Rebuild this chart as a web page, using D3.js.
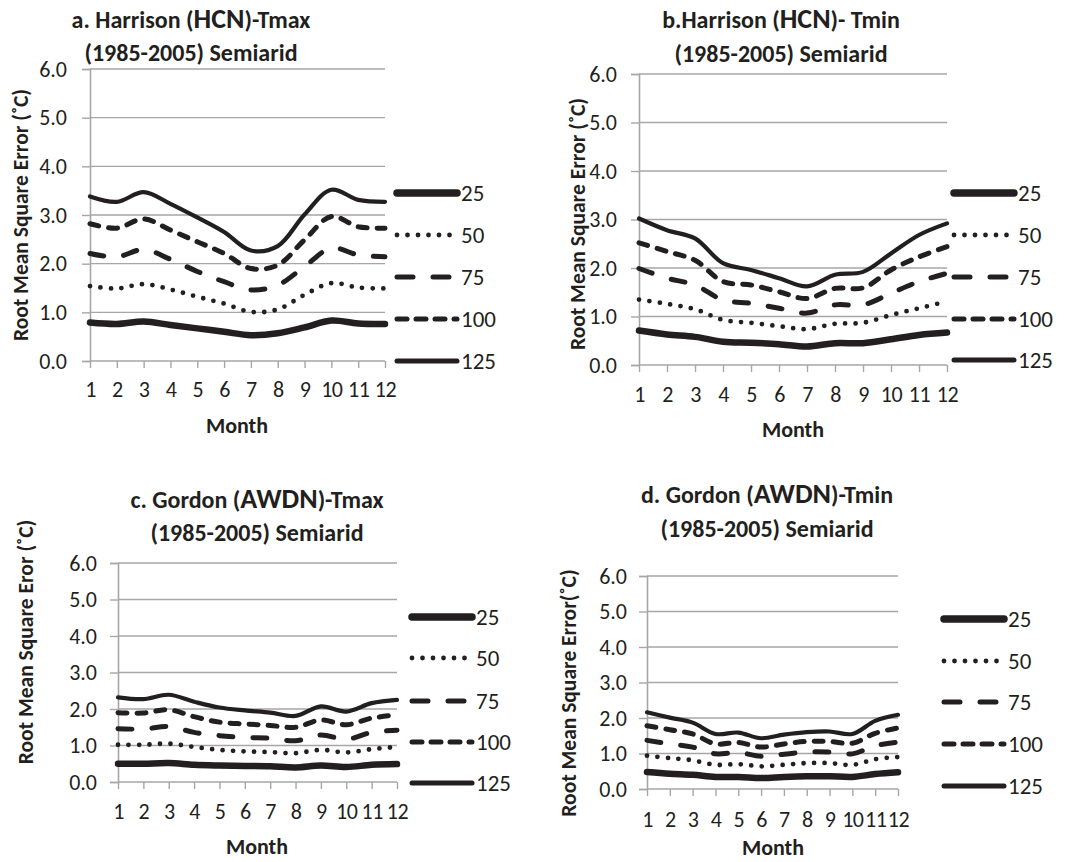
<!DOCTYPE html>
<html><head><meta charset="utf-8">
<script src="https://cdn.jsdelivr.net/npm/d3@7"></script>
<style>body{margin:0;background:#fff}svg{display:block}</style>
</head><body>
<svg id="c" width="1066" height="862"></svg>
<script>
// ---- data ----
const months = [1,2,3,4,5,6,7,8,9,10,11,12];
const seriesNames = ["25","50","75","100","125"];
const yTicks = [0,1,2,3,4,5,6];

// a. Harrison Tmax
const a25  = [0.79,0.76,0.81,0.74,0.67,0.60,0.53,0.57,0.69,0.83,0.77,0.76];
const a50  = [1.54,1.49,1.58,1.47,1.32,1.18,1.01,1.06,1.36,1.60,1.51,1.49];
const a75  = [2.21,2.14,2.29,2.09,1.84,1.63,1.46,1.56,1.94,2.32,2.18,2.14];
const a100 = [2.82,2.73,2.92,2.69,2.45,2.21,1.90,1.97,2.49,2.97,2.76,2.73];
const a125 = [3.38,3.27,3.47,3.23,2.95,2.65,2.27,2.36,3.01,3.52,3.31,3.27];
// b. Harrison Tmin
const b25  = [0.71,0.63,0.58,0.48,0.46,0.43,0.38,0.45,0.45,0.53,0.62,0.67];
const b50  = [1.35,1.26,1.15,0.93,0.87,0.80,0.74,0.85,0.87,1.03,1.17,1.31];
const b75  = [1.99,1.79,1.65,1.34,1.27,1.17,1.07,1.24,1.24,1.48,1.72,1.89];
const b100 = [2.52,2.34,2.16,1.72,1.65,1.51,1.37,1.58,1.59,1.96,2.23,2.44];
const b125 = [3.02,2.78,2.61,2.10,1.96,1.79,1.62,1.86,1.92,2.30,2.68,2.92];
// c. Gordon Tmax
const c25  = [0.50,0.50,0.52,0.47,0.45,0.44,0.43,0.40,0.45,0.41,0.47,0.49];
const c50  = [1.02,1.02,1.05,0.96,0.88,0.84,0.82,0.79,0.88,0.81,0.90,0.96];
const c75  = [1.46,1.45,1.52,1.36,1.27,1.22,1.20,1.13,1.29,1.17,1.36,1.42];
const c100 = [1.90,1.89,1.98,1.79,1.64,1.59,1.55,1.50,1.70,1.57,1.75,1.84];
const c125 = [2.32,2.27,2.39,2.20,2.04,1.96,1.90,1.81,2.07,1.93,2.16,2.25];
// d. Gordon Tmin
const d25  = [0.48,0.43,0.40,0.34,0.34,0.31,0.34,0.36,0.36,0.34,0.42,0.47];
const d50  = [0.94,0.87,0.81,0.68,0.70,0.64,0.68,0.73,0.73,0.68,0.84,0.90];
const d75  = [1.37,1.27,1.18,0.99,1.03,0.92,0.98,1.04,1.04,0.99,1.22,1.32];
const d100 = [1.78,1.67,1.55,1.27,1.31,1.18,1.27,1.34,1.34,1.29,1.57,1.72];
const d125 = [2.16,2.01,1.87,1.55,1.59,1.43,1.53,1.60,1.62,1.55,1.92,2.09];

// ---- styles per series ----
const styles = {
  "25":  {w:6.5, dash:null, cap:"round"},
  "50":  {w:4.8, dash:"0 10.5", cap:"round"},
  "75":  {w:5,   dash:"14 20", cap:"round"},
  "100": {w:5,   dash:"9 10", cap:"round"},
  "125": {w:4.2, dash:null, cap:"round"}
};
const ink = "#231f20", grid = "#a6a6a6";
const FONT = "Carlito, Calibri, Lato, 'Open Sans', sans-serif";

const panels = [
  {t1:["a. Harrison (","HCN",")-Tmax"], t2:"(1985-2005) Semiarid", ytitle:"Root Mean Square Error (˚C)",
   data:[a25,a50,a75,a100,a125],
   x0:90,x1:385,yTop:69,yBot:361, lx:395, ly:[193,235,277,319,361],
   tx:191, tb:[28,61], ytx:20, yty:215, xlb:397, mx:237, mb:433, ylr:67},
  {t1:["b.Harrison (","HCN",")- Tmin"], t2:"(1985-2005) Semiarid", ytitle:"Root Mean Square Error (˚C)",
   data:[b25,b50,b75,b100,b125],
   x0:639,x1:947,yTop:74,yBot:365, lx:952, ly:[193,235,277,319,360],
   tx:781, tb:[28,62], ytx:577, yty:224, xlb:402, mx:793, mb:437, ylr:617},
  {t1:["c. Gordon (","AWDN",")-Tmax"], t2:"(1985-2005) Semiarid", ytitle:"Root Mean Square Eror (˚C)",
   data:[c25,c50,c75,c100,c125],
   x0:118,x1:397,yTop:563,yBot:782, lx:410, ly:[617,658,701,742,783],
   tx:257, tb:[508,541], ytx:25, yty:642, xlb:819, mx:257, mb:854, ylr:97},
  {t1:["d. Gordon (","AWDN",")-Tmin"], t2:"(1985-2005) Semiarid", ytitle:"Root Mean Square Error(˚C)",
   data:[d25,d50,d75,d100,d125],
   x0:647,x1:898,yTop:576,yBot:789, lx:942, ly:[619,661,702,744,786],
   tx:767, tb:[503,537], ytx:568, yty:693, xlb:827, mx:773, mb:855, ylr:627}
];

const svg = d3.select("#c");

panels.forEach(p => {
  const g = svg.append("g");
  const x = d3.scalePoint().domain(months).range([p.x0, p.x1]).padding(0);
  const y = d3.scaleLinear().domain([0,6]).range([p.yBot, p.yTop]);

  // gridlines
  g.selectAll("line.grid").data(yTicks.filter(d=>d>0)).join("line")
    .attr("x1", p.x0).attr("x2", p.x1)
    .attr("y1", d=>y(d)).attr("y2", d=>y(d))
    .attr("stroke", grid).attr("stroke-width", 1.4);

  // y axis
  const ya = g.append("g").attr("transform",`translate(${p.x0},0)`)
    .call(d3.axisLeft(y).tickValues(yTicks).tickFormat(d3.format(".1f")).tickSize(8).tickPadding(p.x0-p.ylr-8));
  ya.select(".domain").attr("stroke", grid).attr("stroke-width",1.6);
  ya.selectAll(".tick line").attr("stroke", grid).attr("stroke-width",1.4);
  ya.selectAll(".tick text").attr("fill", ink).attr("font-family", FONT).attr("font-size", 22);

  // x axis
  const xa = g.append("g").attr("transform",`translate(0,${p.yBot})`)
    .call(d3.axisBottom(x).tickSize(7).tickSizeOuter(0).tickPadding(0));
  xa.select(".domain").attr("stroke", grid).attr("stroke-width",1.6).attr("d", `M${p.x0},0H${p.x1}`);
  xa.selectAll(".tick line").attr("stroke", grid).attr("stroke-width",1.4);
  xa.selectAll(".tick text").attr("fill", ink).attr("font-family", FONT).attr("font-size", 22)
    .attr("dy", null).attr("y", p.xlb - p.yBot).attr("letter-spacing", -0.5);

  // lines
  const line = d3.line().x((d,i)=>x(months[i])).y(d=>y(d)).curve(d3.curveCatmullRom.alpha(0.5));
  seriesNames.forEach((s,k) => {
    const st = styles[s];
    g.append("path").attr("d", line(p.data[k]))
      .attr("fill","none").attr("stroke", ink)
      .attr("stroke-width", st.w).attr("stroke-linecap", st.cap).attr("stroke-linejoin","round")
      .attr("stroke-dasharray", st.dash);
  });

  // legend
  seriesNames.forEach((s,k) => {
    const st = styles[s];
    const ly = p.ly[k];
    const lw = s==="25" ? 7.5 : (s==="125" ? 5 : st.w);
    let dash = st.dash;
    if (s==="75") dash = "16 20";
    if (s==="100") dash = "10 9";
    g.append("line").attr("x1", p.lx+2).attr("x2", p.lx+62).attr("y1", ly).attr("y2", ly)
      .attr("stroke", ink).attr("stroke-width", lw).attr("stroke-linecap", st.cap)
      .attr("stroke-dasharray", dash);
    g.append("text").attr("x", p.lx+66).attr("y", ly).attr("dy","0.35em")
      .attr("fill", ink).attr("font-family", FONT).attr("font-size", 23).text(s);
  });

  // titles
  const t1 = g.append("text").attr("x", p.tx).attr("y", p.tb[0]).attr("text-anchor","middle")
    .attr("fill", ink).attr("font-family", FONT).attr("font-weight","bold").attr("font-size", 24);
  t1.append("tspan").text(p.t1[0]);
  t1.append("tspan").attr("font-size", 28).text(p.t1[1]);
  t1.append("tspan").text(p.t1[2]);
  g.append("text").attr("x", p.tx).attr("y", p.tb[1]).attr("text-anchor","middle")
    .attr("fill", ink).attr("font-family", FONT).attr("font-weight","bold").attr("font-size", 24)
    .text(p.t2);

  // y title
  g.append("text").attr("transform", `translate(${p.ytx},${p.yty}) rotate(-90)`)
    .attr("text-anchor","middle").attr("dy","0.35em")
    .attr("fill", ink).attr("font-family", FONT).attr("font-weight","bold").attr("font-size", 21.5)
    .text(p.ytitle);

  // x title
  g.append("text").attr("x", p.mx).attr("y", p.mb).attr("text-anchor","middle")
    .attr("fill", ink).attr("font-family", FONT).attr("font-weight","bold").attr("font-size", 22)
    .text("Month");
});
</script>
</body></html>
